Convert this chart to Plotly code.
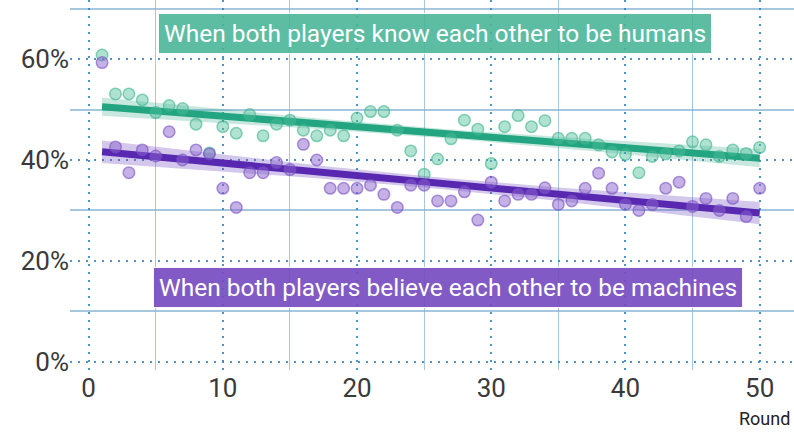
import numpy as np
import plotly.graph_objects as go

rounds = list(range(1, 51))
humans = [60.8, 53.1, 53.1, 51.9, 49.4, 50.8, 50.2, 47.1, 41.4, 46.6,
          45.3, 49.0, 44.8, 47.1, 47.9, 45.9, 44.8, 45.9, 44.8, 48.3,
          49.6, 49.6, 45.9, 41.8, 37.2, 40.2, 44.2, 47.9, 46.1, 39.3,
          46.6, 48.8, 46.6, 47.8, 44.3, 44.3, 44.3, 43.0, 41.6, 41.1,
          37.5, 40.7, 41.2, 41.8, 43.6, 43.0, 40.7, 42.0, 41.3, 42.5]
machines = [59.3, 42.6, 37.5, 42.0, 40.8, 45.6, 40.0, 42.0, 41.2, 34.4,
            30.6, 37.5, 37.5, 39.5, 38.1, 43.1, 40.0, 34.4, 34.4, 34.4,
            35.0, 33.2, 30.6, 35.0, 35.0, 31.9, 31.9, 33.7, 28.1, 35.6,
            31.9, 33.2, 33.2, 34.5, 31.2, 31.9, 34.4, 37.4, 34.4, 31.2,
            30.0, 31.2, 34.4, 35.6, 30.8, 32.4, 30.0, 32.4, 28.8, 34.4]

label_humans = "When both players know each other to be humans"
label_machines = "When both players believe each other to be machines"

GREEN = "rgb(34,165,128)"
PURPLE = "rgb(88,40,176)"


def fit(x, y):
    x = np.asarray(x, float)
    y = np.asarray(y, float)
    n = len(x)
    b, a = np.polyfit(x, y, 1)
    yhat = a + b * x
    s = np.sqrt(np.sum((y - yhat) ** 2) / (n - 2))
    se = s * np.sqrt(1 / n + (x - x.mean()) ** 2 / np.sum((x - x.mean()) ** 2))
    t = 2.0106
    return yhat, yhat - t * se, yhat + t * se


fig = go.Figure()

for vals, col, band, pt_fill, pt_line in [
    (humans, GREEN, "rgba(34,165,128,0.25)", "rgba(80,190,155,0.45)", "rgba(60,180,140,0.6)"),
    (machines, PURPLE, "rgba(110,70,190,0.30)", "rgba(140,100,205,0.50)", "rgba(120,80,195,0.6)"),
]:
    yhat, lo, hi = fit(rounds, vals)
    fig.add_trace(go.Scatter(x=rounds, y=lo, mode="lines", line=dict(width=0),
                             hoverinfo="skip", showlegend=False))
    fig.add_trace(go.Scatter(x=rounds, y=hi, mode="lines", line=dict(width=0),
                             fill="tonexty", fillcolor=band, hoverinfo="skip",
                             showlegend=False))
    fig.add_trace(go.Scatter(x=rounds, y=yhat, mode="lines",
                             line=dict(color=col, width=7), showlegend=False))
    fig.add_trace(go.Scatter(x=rounds, y=vals, mode="markers",
                             marker=dict(size=11.5, color=pt_fill,
                                         line=dict(color=pt_line, width=1.5)),
                             showlegend=False))

fig.add_annotation(x=25.8, y=65.0, xref="x", yref="y", text=label_humans,
                   showarrow=False, font=dict(family="Roboto", size=24.5, color="white"),
                   bgcolor="rgba(70,180,150,0.88)", bordercolor="rgba(255,255,255,0.9)",
                   borderwidth=1, borderpad=5)
fig.add_annotation(x=26.8, y=14.75, xref="x", yref="y", text=label_machines,
                   showarrow=False, font=dict(family="Roboto", size=24.5, color="white"),
                   bgcolor="rgba(118,76,192,0.92)", bordercolor="rgba(255,255,255,0.9)",
                   borderwidth=1, borderpad=5)
fig.add_annotation(x=1, y=0, xref="paper", yref="paper", xanchor="right", yanchor="top",
                   xshift=-2, yshift=-36, text="Round", showarrow=False,
                   font=dict(family="Roboto", size=18, color="#222"))

grid_major = "rgba(40,130,200,0.85)"
grid_minor = "rgba(130,175,210,0.7)"

fig.update_layout(
    width=794, height=432,
    margin=dict(l=70, r=0, t=0, b=62),
    plot_bgcolor="white", paper_bgcolor="white",
    font=dict(family="Roboto", color="#444"),
    xaxis=dict(range=[-1.39, 52.56], tickmode="linear", tick0=0, dtick=10,
               showgrid=True, gridcolor=grid_major, griddash="2px,6px", gridwidth=2,
               zeroline=False, showline=False, ticks="",
               tickfont=dict(size=26, color="#3a3a3a"),
               minor=dict(dtick=5, tick0=0, showgrid=True, gridcolor=grid_minor,
                          griddash="solid", gridwidth=1)),
    yaxis=dict(range=[-1.6, 71.7], tickmode="linear", tick0=0, dtick=20,
               ticksuffix="%", showgrid=True, gridcolor=grid_major,
               griddash="2px,6px", gridwidth=2,
               zeroline=False, showline=False, ticks="",
               tickfont=dict(size=26, color="#3a3a3a"),
               minor=dict(dtick=10, tick0=0, showgrid=True, gridcolor=grid_minor,
                          griddash="solid", gridwidth=1.5)),
)

fig.write_html("out.html", config={"displayModeBar": False},
               post_script="document.body.style.margin='0';document.body.style.overflow='hidden';")
